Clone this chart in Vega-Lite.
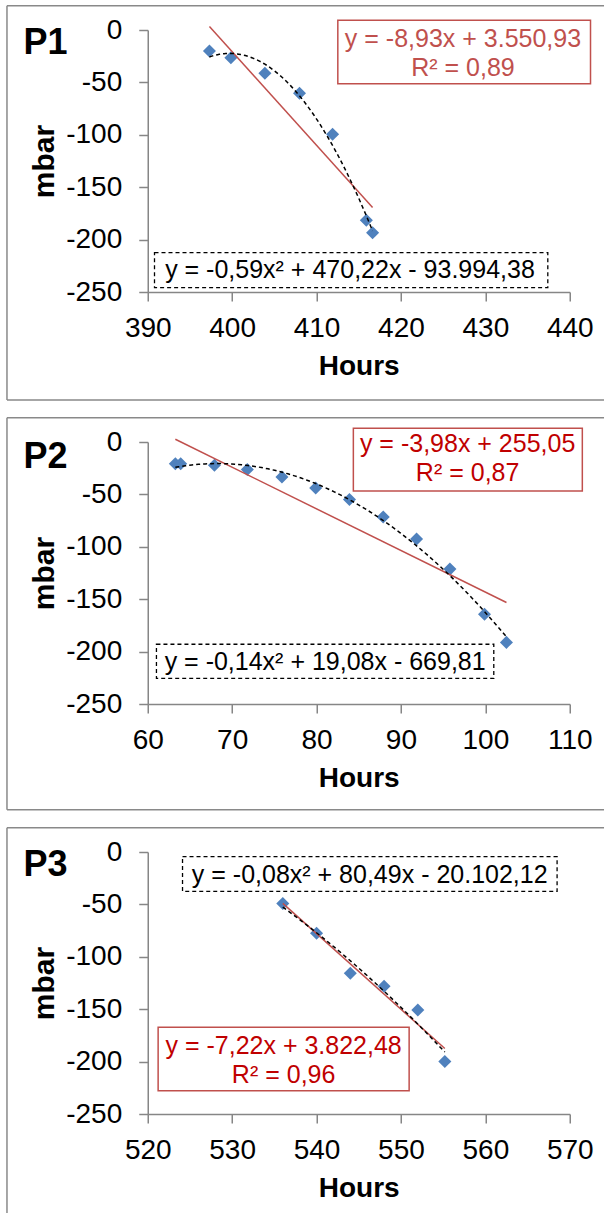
{
  "$schema": "https://vega.github.io/schema/vega-lite/v6.json",
  "background": "white",
  "padding": {"left": 5.75, "top": 4, "right": 0, "bottom": 0},
  "spacing": 15,
  "config": {
    "font": "Liberation Sans",
    "view": {"stroke": null},
    "axis": {
      "grid": false,
      "domainColor": "#868686",
      "domainWidth": 1.5,
      "tickColor": "#868686",
      "tickWidth": 1.5,
      "tickSize": 9,
      "labelFont": "Liberation Sans",
      "labelFontSize": 28,
      "labelColor": "black",
      "labelFlush": false,
      "labelOverlap": false,
      "titleFont": "Liberation Sans",
      "titleFontSize": 28,
      "titleFontWeight": "bold",
      "titleColor": "black"
    },
    "axisX": {"labelPadding": 13, "titlePadding": 10},
    "axisY": {"labelPadding": 17, "titlePadding": 6, "titleFontSize": 30}
  },
  "vconcat": [
    {
      "width": 422,
      "height": 262,
      "data": {"values": [
        {"Hours": 397.31, "mbar": -20.0},
        {"Hours": 399.85, "mbar": -26.4},
        {"Hours": 403.88, "mbar": -41.3},
        {"Hours": 407.98, "mbar": -60.4},
        {"Hours": 411.9, "mbar": -99.5},
        {"Hours": 415.9, "mbar": -181.6},
        {"Hours": 416.64, "mbar": -193.4}
      ]},
      "layer": [
        {"data": {"values": [{}]}, "mark": {"type": "rule", "color": "#898989", "strokeWidth": 1.5},
         "encoding": {"x": {"datum": 373.32, "type": "quantitative"}, "x2": {"datum": 444.06}, "y": {"datum": 23.2, "type": "quantitative"}}},
        {"data": {"values": [{}]}, "mark": {"type": "rule", "color": "#898989", "strokeWidth": 1.5},
         "encoding": {"x": {"datum": 373.32, "type": "quantitative"}, "y": {"datum": 23.2, "type": "quantitative"}, "y2": {"datum": -353}}},
        {"data": {"values": [{}]}, "mark": {"type": "rule", "color": "#898989", "strokeWidth": 1.5},
         "encoding": {"x": {"datum": 373.32, "type": "quantitative"}, "x2": {"datum": 444.06}, "y": {"datum": -353, "type": "quantitative"}}},
        {
          "mark": {"type": "point", "shape": "diamond", "filled": true, "size": 170, "color": "#4F81BD", "opacity": 1},
          "encoding": {
            "x": {"field": "Hours", "type": "quantitative", "scale": {"domain": [390, 440], "nice": false, "zero": false},
                  "axis": {"values": [390, 400, 410, 420, 430, 440], "title": "Hours", "labelExpr": "datum.value + ''"}},
            "y": {"field": "mbar", "type": "quantitative", "scale": {"domain": [-250, 0], "nice": false},
                  "axis": {"values": [0, -50, -100, -150, -200, -250], "title": "mbar", "labelExpr": "datum.value + ''"}}
          }
        },
        {"transform": [{"regression": "mbar", "on": "Hours"}],
         "mark": {"type": "line", "color": "#C0504D", "strokeWidth": 1.5},
         "encoding": {"x": {"field": "Hours", "type": "quantitative"}, "y": {"field": "mbar", "type": "quantitative"}}},
        {"transform": [{"regression": "mbar", "on": "Hours", "method": "poly", "order": 2}],
         "mark": {"type": "line", "color": "black", "strokeWidth": 1.5, "strokeDash": [4, 3]},
         "encoding": {"x": {"field": "Hours", "type": "quantitative"}, "y": {"field": "mbar", "type": "quantitative"}}},
        {"data": {"values": [{}]}, "mark": {"type": "rect", "fill": "white", "stroke": "#C0504D", "strokeWidth": 1.5},
         "encoding": {"x": {"datum": 412.52, "type": "quantitative"}, "x2": {"datum": 442.46}, "y": {"datum": 9.3, "type": "quantitative"}, "y2": {"datum": -51.2}}},
        {"data": {"values": [{"t": "y = -8,93x + 3.550,93\nR² = 0,89"}]},
         "mark": {"type": "text", "align": "center", "baseline": "middle", "lineBreak": "\n", "lineHeight": 29, "fontSize": 25, "color": "#C0504D"},
         "encoding": {"x": {"datum": 427.35, "type": "quantitative"}, "y": {"datum": -9.0, "type": "quantitative"}, "text": {"field": "t", "type": "nominal"}}},
        {"data": {"values": [{}]}, "mark": {"type": "rect", "fill": "white", "stroke": "black", "strokeWidth": 1.3, "strokeDash": [4, 3]},
         "encoding": {"x": {"datum": 390.8, "type": "quantitative"}, "x2": {"datum": 437.4}, "y": {"datum": -212.45, "type": "quantitative"}, "y2": {"datum": -245.85}}},
        {"data": {"values": [{"t": "y = -0,59x²  + 470,22x - 93.994,38"}]},
         "mark": {"type": "text", "align": "center", "baseline": "alphabetic", "fontSize": 25, "color": "black"},
         "encoding": {"x": {"datum": 413.96, "type": "quantitative"}, "y": {"datum": -236.9, "type": "quantitative"}, "text": {"field": "t", "type": "nominal"}}},
        {"data": {"values": [{"t": "P1"}]},
         "mark": {"type": "text", "align": "left", "baseline": "alphabetic", "fontSize": 36, "fontWeight": "bold", "color": "black"},
         "encoding": {"x": {"datum": 375.28, "type": "quantitative"}, "y": {"datum": -22.6, "type": "quantitative"}, "text": {"field": "t", "type": "nominal"}}}
      ]
    },
    {
      "width": 422,
      "height": 262,
      "data": {"values": [
        {"Hours": 63.27, "mbar": -20.7},
        {"Hours": 63.9, "mbar": -20.7},
        {"Hours": 67.9, "mbar": -22.2},
        {"Hours": 71.8, "mbar": -26.3},
        {"Hours": 75.9, "mbar": -33.3},
        {"Hours": 79.9, "mbar": -43.8},
        {"Hours": 83.9, "mbar": -54.9},
        {"Hours": 87.9, "mbar": -71.6},
        {"Hours": 91.85, "mbar": -92.6},
        {"Hours": 95.8, "mbar": -121.3},
        {"Hours": 99.9, "mbar": -164.4},
        {"Hours": 102.5, "mbar": -191.2}
      ]},
      "layer": [
        {"data": {"values": [{}]}, "mark": {"type": "rule", "color": "#898989", "strokeWidth": 1.5},
         "encoding": {"x": {"datum": 43.32, "type": "quantitative"}, "x2": {"datum": 114.06}, "y": {"datum": 23.2, "type": "quantitative"}}},
        {"data": {"values": [{}]}, "mark": {"type": "rule", "color": "#898989", "strokeWidth": 1.5},
         "encoding": {"x": {"datum": 43.32, "type": "quantitative"}, "y": {"datum": 23.2, "type": "quantitative"}, "y2": {"datum": -351}}},
        {"data": {"values": [{}]}, "mark": {"type": "rule", "color": "#898989", "strokeWidth": 1.5},
         "encoding": {"x": {"datum": 43.32, "type": "quantitative"}, "x2": {"datum": 114.06}, "y": {"datum": -351, "type": "quantitative"}}},
        {
          "mark": {"type": "point", "shape": "diamond", "filled": true, "size": 170, "color": "#4F81BD", "opacity": 1},
          "encoding": {
            "x": {"field": "Hours", "type": "quantitative", "scale": {"domain": [60, 110], "nice": false, "zero": false},
                  "axis": {"values": [60, 70, 80, 90, 100, 110], "title": "Hours", "labelExpr": "datum.value + ''"}},
            "y": {"field": "mbar", "type": "quantitative", "scale": {"domain": [-250, 0], "nice": false},
                  "axis": {"values": [0, -50, -100, -150, -200, -250], "title": "mbar", "labelExpr": "datum.value + ''"}}
          }
        },
        {"transform": [{"regression": "mbar", "on": "Hours"}],
         "mark": {"type": "line", "color": "#C0504D", "strokeWidth": 1.5},
         "encoding": {"x": {"field": "Hours", "type": "quantitative"}, "y": {"field": "mbar", "type": "quantitative"}}},
        {"transform": [{"regression": "mbar", "on": "Hours", "method": "poly", "order": 2}],
         "mark": {"type": "line", "color": "black", "strokeWidth": 1.5, "strokeDash": [4, 3]},
         "encoding": {"x": {"field": "Hours", "type": "quantitative"}, "y": {"field": "mbar", "type": "quantitative"}}},
        {"data": {"values": [{}]}, "mark": {"type": "rect", "fill": "white", "stroke": "#C0504D", "strokeWidth": 1.5},
         "encoding": {"x": {"datum": 84.36, "type": "quantitative"}, "x2": {"datum": 111.49}, "y": {"datum": 13.07, "type": "quantitative"}, "y2": {"datum": -46.85}}},
        {"data": {"values": [{"t": "y = -3,98x + 255,05\nR² = 0,87"}]},
         "mark": {"type": "text", "align": "center", "baseline": "middle", "lineBreak": "\n", "lineHeight": 29, "fontSize": 25, "color": "#C00000"},
         "encoding": {"x": {"datum": 97.9, "type": "quantitative"}, "y": {"datum": -2.0, "type": "quantitative"}, "text": {"field": "t", "type": "nominal"}}},
        {"data": {"values": [{}]}, "mark": {"type": "rect", "fill": "white", "stroke": "black", "strokeWidth": 1.3, "strokeDash": [4, 3]},
         "encoding": {"x": {"datum": 61.03, "type": "quantitative"}, "x2": {"datum": 101.0}, "y": {"datum": -193.0, "type": "quantitative"}, "y2": {"datum": -225.5}}},
        {"data": {"values": [{"t": "y = -0,14x²  + 19,08x - 669,81"}]},
         "mark": {"type": "text", "align": "center", "baseline": "alphabetic", "fontSize": 25, "color": "black"},
         "encoding": {"x": {"datum": 81.02, "type": "quantitative"}, "y": {"datum": -217.5, "type": "quantitative"}, "text": {"field": "t", "type": "nominal"}}},
        {"data": {"values": [{"t": "P2"}]},
         "mark": {"type": "text", "align": "left", "baseline": "alphabetic", "fontSize": 36, "fontWeight": "bold", "color": "black"},
         "encoding": {"x": {"datum": 45.28, "type": "quantitative"}, "y": {"datum": -25, "type": "quantitative"}, "text": {"field": "t", "type": "nominal"}}}
      ]
    },
    {
      "width": 422,
      "height": 262,
      "data": {"values": [
        {"Hours": 536.0, "mbar": -49.2},
        {"Hours": 540.0, "mbar": -77.6},
        {"Hours": 544.0, "mbar": -115.6},
        {"Hours": 548.0, "mbar": -128.1},
        {"Hours": 552.0, "mbar": -150.8},
        {"Hours": 555.2, "mbar": -200.0}
      ]},
      "layer": [
        {"data": {"values": [{}]}, "mark": {"type": "rule", "color": "#898989", "strokeWidth": 1.5},
         "encoding": {"x": {"datum": 503.32, "type": "quantitative"}, "x2": {"datum": 574.06}, "y": {"datum": 23.2, "type": "quantitative"}}},
        {"data": {"values": [{}]}, "mark": {"type": "rule", "color": "#898989", "strokeWidth": 1.5},
         "encoding": {"x": {"datum": 503.32, "type": "quantitative"}, "y": {"datum": 23.2, "type": "quantitative"}, "y2": {"datum": -346}}},
        {
          "mark": {"type": "point", "shape": "diamond", "filled": true, "size": 170, "color": "#4F81BD", "opacity": 1},
          "encoding": {
            "x": {"field": "Hours", "type": "quantitative", "scale": {"domain": [520, 570], "nice": false, "zero": false},
                  "axis": {"values": [520, 530, 540, 550, 560, 570], "title": "Hours", "labelExpr": "datum.value + ''"}},
            "y": {"field": "mbar", "type": "quantitative", "scale": {"domain": [-250, 0], "nice": false},
                  "axis": {"values": [0, -50, -100, -150, -200, -250], "title": "mbar", "labelExpr": "datum.value + ''"}}
          }
        },
        {"transform": [{"regression": "mbar", "on": "Hours"}],
         "mark": {"type": "line", "color": "#C0504D", "strokeWidth": 1.5},
         "encoding": {"x": {"field": "Hours", "type": "quantitative"}, "y": {"field": "mbar", "type": "quantitative"}}},
        {"transform": [{"regression": "mbar", "on": "Hours", "method": "poly", "order": 2}],
         "mark": {"type": "line", "color": "black", "strokeWidth": 1.5, "strokeDash": [4, 3]},
         "encoding": {"x": {"field": "Hours", "type": "quantitative"}, "y": {"field": "mbar", "type": "quantitative"}}},
        {"data": {"values": [{}]}, "mark": {"type": "rect", "fill": "white", "stroke": "black", "strokeWidth": 1.3, "strokeDash": [4, 3]},
         "encoding": {"x": {"datum": 524.12, "type": "quantitative"}, "x2": {"datum": 568.5}, "y": {"datum": -4.5, "type": "quantitative"}, "y2": {"datum": -37.5}}},
        {"data": {"values": [{"t": "y = -0,08x²  + 80,49x - 20.102,12"}]},
         "mark": {"type": "text", "align": "center", "baseline": "alphabetic", "fontSize": 25, "color": "black"},
         "encoding": {"x": {"datum": 546.3, "type": "quantitative"}, "y": {"datum": -29.9, "type": "quantitative"}, "text": {"field": "t", "type": "nominal"}}},
        {"data": {"values": [{}]}, "mark": {"type": "rect", "fill": "white", "stroke": "#C0504D", "strokeWidth": 1.5},
         "encoding": {"x": {"datum": 521.23, "type": "quantitative"}, "x2": {"datum": 550.97}, "y": {"datum": -167.3, "type": "quantitative"}, "y2": {"datum": -227.8}}},
        {"data": {"values": [{"t": "y = -7,22x + 3.822,48\nR² = 0,96"}]},
         "mark": {"type": "text", "align": "center", "baseline": "middle", "lineBreak": "\n", "lineHeight": 29, "fontSize": 25, "color": "#C00000"},
         "encoding": {"x": {"datum": 536.1, "type": "quantitative"}, "y": {"datum": -184.9, "type": "quantitative"}, "text": {"field": "t", "type": "nominal"}}},
        {"data": {"values": [{"t": "P3"}]},
         "mark": {"type": "text", "align": "left", "baseline": "alphabetic", "fontSize": 36, "fontWeight": "bold", "color": "black"},
         "encoding": {"x": {"datum": 505.28, "type": "quantitative"}, "y": {"datum": -22.6, "type": "quantitative"}, "text": {"field": "t", "type": "nominal"}}}
      ]
    }
  ]
}
